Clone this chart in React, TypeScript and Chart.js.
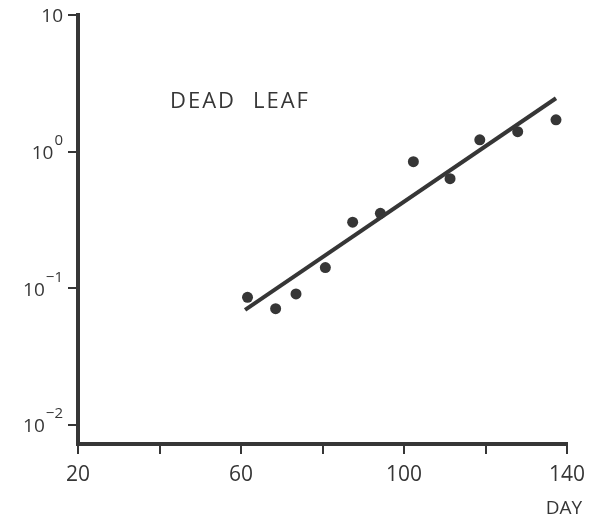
import React, { useEffect, useRef } from "react";
import { Chart, registerables } from "chart.js";

Chart.register(...registerables);

// Data
const days = [61.6, 68.5, 73.5, 80.7, 87.4, 94.2, 102.3, 111.3, 118.6, 127.9, 137.3];
const values = [0.086, 0.071, 0.091, 0.142, 0.305, 0.354, 0.845, 0.634, 1.22, 1.4, 1.71];
const fitDays = [61.0, 137.3];
const fitValues = [0.0695, 2.46];

const xTickValues = [20, 40, 60, 80, 100, 120, 140];
const xLabeledTicks = [20, 60, 100, 140];
const yTickValues = [10, 1, 0.1, 0.01];
const yTickBases = ["10", "10", "10", "10"];
const yTickExponents = ["", "0", "\u22121", "\u22122"];

const panelLabel = "DEAD LEAF";
const xAxisTitle = "DAY";

const INK = "#363636";
const FONT = "'Open Sans', 'DejaVu Sans', sans-serif";

export default function App() {
  const ref = useRef<HTMLCanvasElement | null>(null);

  useEffect(() => {
    if (!ref.current) return;

    const textPlugin = {
      id: "customText",
      afterDraw(chart: any) {
        const ctx = chart.ctx;
        const y = chart.scales.y;
        ctx.save();
        ctx.fillStyle = INK;
        ctx.textBaseline = "middle";
        const right = 55;
        yTickValues.forEach((v, i) => {
          const py = y.getPixelForValue(v);
          const sup = yTickExponents[i];
          ctx.font = `500 15px ${FONT}`;
          const supW = sup ? ctx.measureText(sup).width : 0;
          if (sup) {
            ctx.textAlign = "right";
            ctx.fillText(sup, right, py - 11);
          }
          ctx.font = `500 19px ${FONT}`;
          ctx.textAlign = "right";
          ctx.fillText(yTickBases[i], right - supW - (sup ? 1 : 0), py + 2);
        });
        // panel label (two words, wide spacing as in the reference)
        ctx.font = `500 22px ${FONT}`;
        ctx.textAlign = "left";
        (ctx as any).letterSpacing = "2px";
        const words = panelLabel.split(" ");
        ctx.fillText(words[0], 162, 94);
        ctx.fillText(words[1], 245, 94);
        (ctx as any).letterSpacing = "0px";
        // axis title
        ctx.font = `500 19px ${FONT}`;
        ctx.textAlign = "center";
        ctx.fillText(xAxisTitle, 556, 501);
        ctx.restore();
      },
    };

    const chart = new Chart(ref.current, {
      type: "scatter",
      data: {
        datasets: [
          {
            label: "fit",
            type: "line",
            data: fitDays.map((d, i) => ({ x: d, y: fitValues[i] })),
            borderColor: INK,
            borderWidth: 4,
            pointRadius: 0,
            showLine: true,
            fill: false,
            clip: false,
          } as any,
          {
            label: "dead leaf",
            data: days.map((d, i) => ({ x: d, y: values[i] })),
            backgroundColor: INK,
            borderColor: INK,
            pointRadius: 5.5,
            borderWidth: 0,
            clip: false,
          } as any,
        ],
      },
      plugins: [textPlugin],
      options: {
        responsive: false,
        animation: false,
        layout: { padding: { top: 7, right: 33, left: 0, bottom: 0 } },
        plugins: {
          legend: { display: false },
          tooltip: { enabled: false },
          title: { display: false },
        },
        scales: {
          x: {
            type: "linear",
            min: 20,
            max: 140,
            afterBuildTicks: (scale: any) => {
              scale.ticks = xTickValues.map((v) => ({ value: v }));
            },
            afterFit: (scale: any) => {
              scale.height = 82;
            },
            border: { display: true, color: INK, width: 4 },
            grid: {
              drawOnChartArea: false,
              drawTicks: true,
              tickLength: 10,
              color: INK,
              lineWidth: 2,
            },
            ticks: {
              autoSkip: false,
              maxRotation: 0,
              padding: 8,
              color: INK,
              font: { family: FONT, size: 21, weight: "500" },
              callback: (v: any) => (xLabeledTicks.includes(Number(v)) ? String(v) : ""),
            },
          },
          y: {
            type: "logarithmic",
            min: 0.00726,
            max: 10,
            afterBuildTicks: (scale: any) => {
              scale.ticks = yTickValues.map((v) => ({ value: v }));
            },
            afterFit: (scale: any) => {
              scale.width = 70;
            },
            border: { display: true, color: INK, width: 4 },
            grid: {
              drawOnChartArea: false,
              drawTicks: true,
              tickLength: 10,
              color: INK,
              lineWidth: 2,
            },
            ticks: { display: false },
          },
        },
      } as any,
    });

    return () => chart.destroy();
  }, []);

  return (
    <canvas
      ref={ref}
      width={592}
      height={518}
      style={{ display: "block", width: "592px", height: "518px" }}
    />
  );
}
